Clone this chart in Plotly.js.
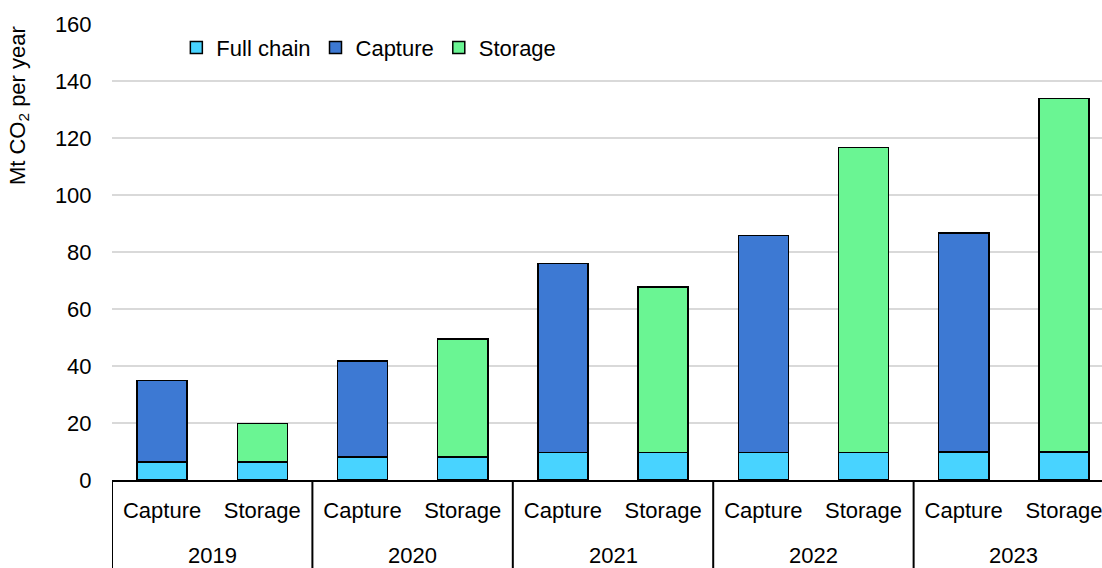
<!DOCTYPE html>
<html>
<head>
<meta charset="utf-8">
<script src="https://cdn.plot.ly/plotly-3.0.1.min.js"></script>
<style>html,body{margin:0;padding:0;background:#fff;}#chart{width:1102px;height:568px;}</style>
</head>
<body>
<div id="chart"></div>
<script>
// Data
var years = ['2019','2019','2020','2020','2021','2021','2022','2022','2023','2023'];
var kinds = ['Capture','Storage','Capture','Storage','Capture','Storage','Capture','Storage','Capture','Storage'];
var yearGroups = ['2019','2020','2021','2022','2023'];
var fullChain = [6.3, 6.3, 8.0, 8.0, 9.6, 9.6, 9.7, 9.7, 9.8, 9.8];
var capture   = [28.7, null, 33.7, null, 66.4, null, 76.1, null, 76.9, null];
var storage   = [null, 13.5, null, 41.4, null, 58.2, null, 106.9, null, 124.0];
var seriesNames = ['Full chain', 'Capture', 'Storage'];
var yTitle = 'Mt CO<sub>2</sub> per year';

var FONT = '"Liberation Sans", Arial, sans-serif';
var FS = 22;
var colors = ['#48D3FF', '#3D79D3', '#6AF593'];
var lineStyle = {color: '#000000', width: 1.5};

// unique category keys: year + kind
var xKeys = years.map(function (y, i) { return y + ' ' + kinds[i]; });

var traces = [fullChain, capture, storage].map(function (vals, i) {
  return {
    type: 'bar',
    name: seriesNames[i],
    x: xKeys,
    y: vals,
    width: 0.5,
    marker: {color: colors[i], line: lineStyle},
    hoverinfo: 'skip'
  };
});

// year labels and group dividers (positioned in category index space)
var annotations = yearGroups.map(function (yr, g) {
  return {
    text: yr,
    xref: 'x', yref: 'paper',
    x: 2 * g + 0.5, y: -0.166,
    xanchor: 'center', yanchor: 'middle',
    showarrow: false,
    font: {family: FONT, size: FS, color: '#000000'}
  };
});
annotations.push({
  text: yTitle,
  xref: 'paper', yref: 'paper',
  x: -0.094, y: 0.822,
  xanchor: 'center', yanchor: 'middle',
  textangle: -90,
  showarrow: false,
  font: {family: FONT, size: FS, color: '#000000'}
});

var shapes = yearGroups.map(function (yr, g) {
  return {
    type: 'line',
    xref: 'x', yref: 'paper',
    x0: 2 * g - 0.5, x1: 2 * g - 0.5,
    y0: 0, y1: -0.21,
    line: {color: '#000000', width: 2}
  };
});

var layout = {
  width: 1102,
  height: 568,
  margin: {l: 112, r: 0, t: 24, b: 88},
  paper_bgcolor: '#ffffff',
  plot_bgcolor: '#ffffff',
  font: {family: FONT, size: FS, color: '#000000'},
  barmode: 'stack',
  showlegend: true,
  legend: {
    orientation: 'h',
    x: 0.065, xanchor: 'left',
    y: 0.948, yanchor: 'middle',
    bgcolor: 'rgba(0,0,0,0)',
    font: {family: FONT, size: FS, color: '#000000'},
    traceorder: 'normal'
  },
  xaxis: {
    type: 'category',
    categoryorder: 'array',
    categoryarray: xKeys,
    tickvals: xKeys,
    ticktext: kinds,
    range: [-0.5, 9.38],
    showline: true,
    linecolor: '#000000',
    linewidth: 2,
    showgrid: false,
    ticks: 'outside',
    ticklen: 10,
    tickcolor: 'rgba(0,0,0,0)',
    tickfont: {family: FONT, size: FS, color: '#000000'}
  },
  yaxis: {
    range: [0, 160],
    dtick: 20,
    showgrid: true,
    gridcolor: '#d9d9d9',
    gridwidth: 1.5,
    zeroline: false,
    showline: false,
    ticks: 'outside',
    ticklen: 15,
    tickcolor: 'rgba(0,0,0,0)',
    tickfont: {family: FONT, size: FS, color: '#000000'}
  },
  shapes: shapes,
  annotations: annotations
};

Plotly.newPlot('chart', traces, layout, {staticPlot: true, displayModeBar: false});
</script>
</body>
</html>
